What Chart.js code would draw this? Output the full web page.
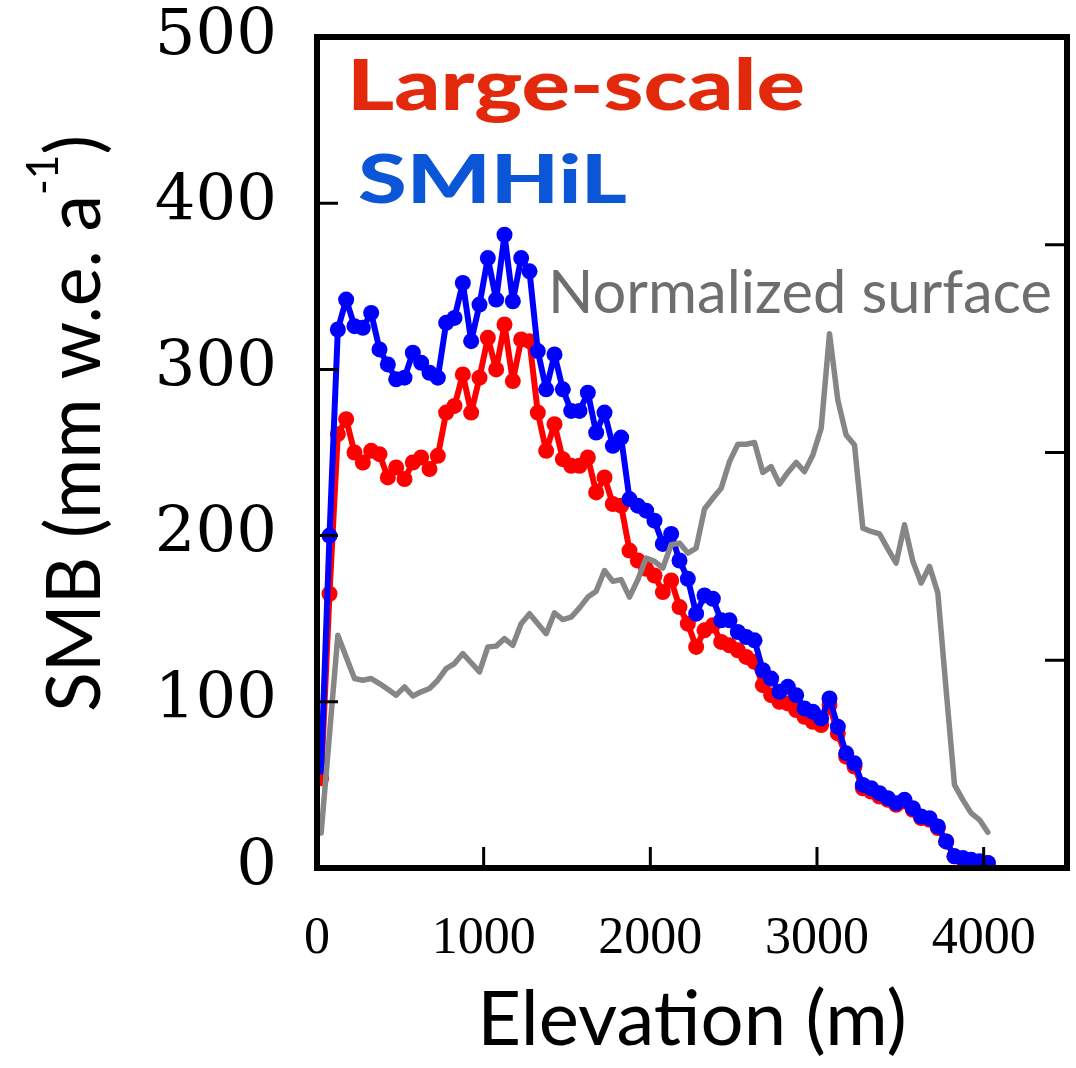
<!DOCTYPE html>
<html lang="en">
<head>
<meta charset="UTF-8">
<title>SMB vs elevation</title>
<script src="https://cdn.jsdelivr.net/npm/chart.js"></script>
<style>
    html, body { margin: 0; padding: 0; background: #fff; }
    #wrap { width: 1076px; height: 1068px; }
</style>
</head>
<body>
<div id="wrap"><canvas id="smbChart" width="1076" height="1068"></canvas></div>
<script>
// elevation bins (m), 50 m bands
const elevation = [25, 75, 125, 175, 225, 275, 325, 375, 425, 475,
    525, 575, 625, 675, 725, 775, 825, 875, 925, 975,
    1025, 1075, 1125, 1175, 1225, 1275, 1325, 1375, 1425, 1475,
    1525, 1575, 1625, 1675, 1725, 1775, 1825, 1875, 1925, 1975,
    2025, 2075, 2125, 2175, 2225, 2275, 2325, 2375, 2425, 2475,
    2525, 2575, 2625, 2675, 2725, 2775, 2825, 2875, 2925, 2975,
    3025, 3075, 3125, 3175, 3225, 3275, 3325, 3375, 3425, 3475,
    3525, 3575, 3625, 3675, 3725, 3775, 3825, 3875, 3925, 3975, 4025];

// SMB, mm w.e. per year
const smhil = [61, 200, 324, 342, 326, 325, 334, 312, 303, 294,
    295, 310, 304, 298, 295, 328, 331, 352, 317, 339,
    367, 342, 381, 341, 367, 359, 311, 288, 309, 288,
    275, 275, 286, 262, 274, 254, 259, 222, 218, 215,
    209, 195, 201, 185, 174, 153, 164, 162, 149, 149,
    142, 139, 137, 119, 114, 106, 109, 104, 96, 94,
    90, 102, 85, 69, 63, 50, 48, 45, 42, 39,
    41, 36, 31, 30, 25, 16, 7, 6, 5, 4, 3];

const largeScale = [54, 165, 261, 270, 250, 244, 251, 249, 235, 241,
    234, 244, 247, 240, 248, 274, 278, 297, 274, 295,
    319, 300, 327, 293, 318, 317, 274, 251, 267, 246,
    242, 242, 247, 226, 235, 219, 218, 191, 185, 180,
    176, 166, 173, 157, 147, 133, 143, 146, 136, 134,
    131, 127, 124, 110, 104, 100, 99, 95, 91, 88,
    86, 98, 81, 67, 61, 48, 46, 43, 41, 38,
    40, 35, 30, 29, 24, 16, 7, 5, 4.5, 3.6, 3];

// normalized surface (right axis, 0-1)
const surface = [0.042, 0.161, 0.280, 0.254, 0.228, 0.226, 0.228, 0.222, 0.215, 0.208,
    0.218, 0.207, 0.212, 0.216, 0.226, 0.240, 0.246, 0.258, 0.247, 0.236,
    0.266, 0.267, 0.276, 0.268, 0.294, 0.306, 0.294, 0.282, 0.307, 0.299,
    0.302, 0.313, 0.326, 0.333, 0.358, 0.345, 0.347, 0.326, 0.347, 0.373,
    0.369, 0.361, 0.389, 0.391, 0.379, 0.385, 0.432, 0.445, 0.457, 0.489,
    0.510, 0.510, 0.512, 0.476, 0.483, 0.462, 0.476, 0.488, 0.477, 0.497,
    0.529, 0.643, 0.563, 0.521, 0.509, 0.409, 0.405, 0.402, 0.384, 0.367,
    0.413, 0.369, 0.343, 0.363, 0.331, 0.214, 0.100, 0.082, 0.066, 0.058, 0.043];

const xTicks = [0, 1000, 2000, 3000, 4000];
const yTicks = [0, 100, 200, 300, 400, 500];
const y2Ticks = [0, 0.25, 0.5, 0.75, 1];

function pts(vals) {
    return vals.map((v, i) => ({ x: elevation[i], y: v }));
}

// stretch/squeeze text to a given width
function fitText(ctx, text, x, y, width) {
    const w = ctx.measureText(text).width;
    ctx.save();
    ctx.translate(x, y);
    ctx.scale(width / w, 1);
    ctx.fillText(text, 0, 0);
    ctx.restore();
}

// box frame + inward tick marks
const frame = {
    id: 'frame',
    afterDatasetsDraw(chart) {
        const { ctx, chartArea: a, scales } = chart;
        ctx.save();
        ctx.strokeStyle = '#000';
        ctx.lineWidth = 3;
        ctx.beginPath();
        xTicks.slice(1).forEach(v => {
            const px = scales.x.getPixelForValue(v);
            ctx.moveTo(px, a.bottom);
            ctx.lineTo(px, a.bottom - 21);
        });
        yTicks.slice(1, -1).forEach(v => {
            const py = scales.y.getPixelForValue(v);
            ctx.moveTo(a.left, py);
            ctx.lineTo(a.left + 21, py);
        });
        y2Ticks.slice(1, -1).forEach(v => {
            const py = scales.y2.getPixelForValue(v);
            ctx.moveTo(a.right, py);
            ctx.lineTo(a.right - 22, py);
        });
        ctx.stroke();
        ctx.lineWidth = 6;
        ctx.strokeRect(a.left, a.top, a.right - a.left, a.bottom - a.top);
        ctx.restore();
    }
};

// series names and the y axis title (needs a superscript)
const labels = {
    id: 'labels',
    afterDraw(chart) {
        const ctx = chart.ctx;
        ctx.save();
        ctx.textAlign = 'left';
        ctx.textBaseline = 'alphabetic';

        ctx.fillStyle = '#e3290c';
        ctx.font = '900 70px Lato';
        fitText(ctx, 'Large-scale', 347, 110, 458);

        ctx.fillStyle = '#0b56d6';
        ctx.font = '900 67px Lato';
        fitText(ctx, 'SMHiL', 358, 203, 269);

        ctx.fillStyle = '#6e6e6e';
        ctx.font = '60px Lato';
        fitText(ctx, 'Normalized surface', 548, 313, 504);

        // SMB (mm w.e. a^-1), rotated
        ctx.fillStyle = '#000';
        const main = '76px Lato', sup = '44px Lato';
        ctx.font = main;
        const w1 = ctx.measureText('SMB (mm w.e. a').width;
        const w3 = ctx.measureText(')').width;
        ctx.font = sup;
        const w2 = ctx.measureText('-1').width;
        const k = 577 / (w1 + w2 + w3);
        ctx.translate(100, 712);
        ctx.rotate(-Math.PI / 2);
        ctx.scale(k, 1);
        ctx.font = main;
        ctx.fillText('SMB (mm w.e. a', 0, 0);
        ctx.font = sup;
        ctx.fillText('-1', w1, -42);
        ctx.font = main;
        ctx.fillText(')', w1 + w2, 0);
        ctx.restore();
    }
};

const lineStyle = {
    tension: 0,
    borderJoinStyle: 'round',
    borderCapStyle: 'round'
};

new Chart(document.getElementById('smbChart'), {
    type: 'line',
    data: {
        datasets: [{
            ...lineStyle,
            label: 'Normalized surface',
            data: pts(surface),
            yAxisID: 'y2',
            borderColor: '#868686',
            borderWidth: 5.5,
            pointRadius: 0
        }, {
            ...lineStyle,
            label: 'SMHiL',
            data: pts(smhil),
            yAxisID: 'y',
            borderColor: '#0000ff',
            backgroundColor: '#0000ff',
            borderWidth: 6,
            pointRadius: 8,
            pointBorderWidth: 0
        }, {
            ...lineStyle,
            label: 'Large-scale',
            data: pts(largeScale),
            yAxisID: 'y',
            borderColor: '#ff0000',
            backgroundColor: '#ff0000',
            borderWidth: 6,
            pointRadius: 8,
            pointBorderWidth: 0
        }]
    },
    options: {
        responsive: false,
        animation: false,
        events: [],
        layout: { padding: { top: 37, right: 9, left: 0, bottom: 0 } },
        plugins: { legend: { display: false }, tooltip: { enabled: false } },
        scales: {
            x: {
                type: 'linear',
                min: 0,
                max: 4500,
                afterBuildTicks: s => { s.ticks = xTicks.map(v => ({ value: v })); },
                afterFit: s => { s.height = 200; s.paddingLeft = 0; s.paddingRight = 0; },
                grid: { display: false, drawTicks: false },
                border: { display: false },
                ticks: {
                    color: '#000',
                    font: { family: 'Liberation Serif', size: 52 },
                    padding: 40,
                    maxRotation: 0,
                    callback: v => String(v)
                },
                title: {
                    display: true,
                    text: 'Elevation (m)',
                    color: '#000',
                    font: { family: 'Lato', size: 76 },
                    padding: { top: 0, bottom: 2 }
                }
            },
            y: {
                position: 'left',
                min: 0,
                max: 500,
                afterBuildTicks: s => { s.ticks = yTicks.map(v => ({ value: v })); },
                afterFit: s => { s.width = 317; s.paddingTop = 0; s.paddingBottom = 0; },
                grid: { display: false, drawTicks: false },
                border: { display: false },
                ticks: {
                    color: '#000',
                    font: { family: 'DejaVu Serif', size: 64 },
                    padding: 40
                }
            },
            y2: {
                position: 'right',
                display: false,
                min: 0,
                max: 1,
                afterBuildTicks: s => { s.ticks = y2Ticks.map(v => ({ value: v })); }
            }
        }
    },
    plugins: [frame, labels]
});
</script>
</body>
</html>
